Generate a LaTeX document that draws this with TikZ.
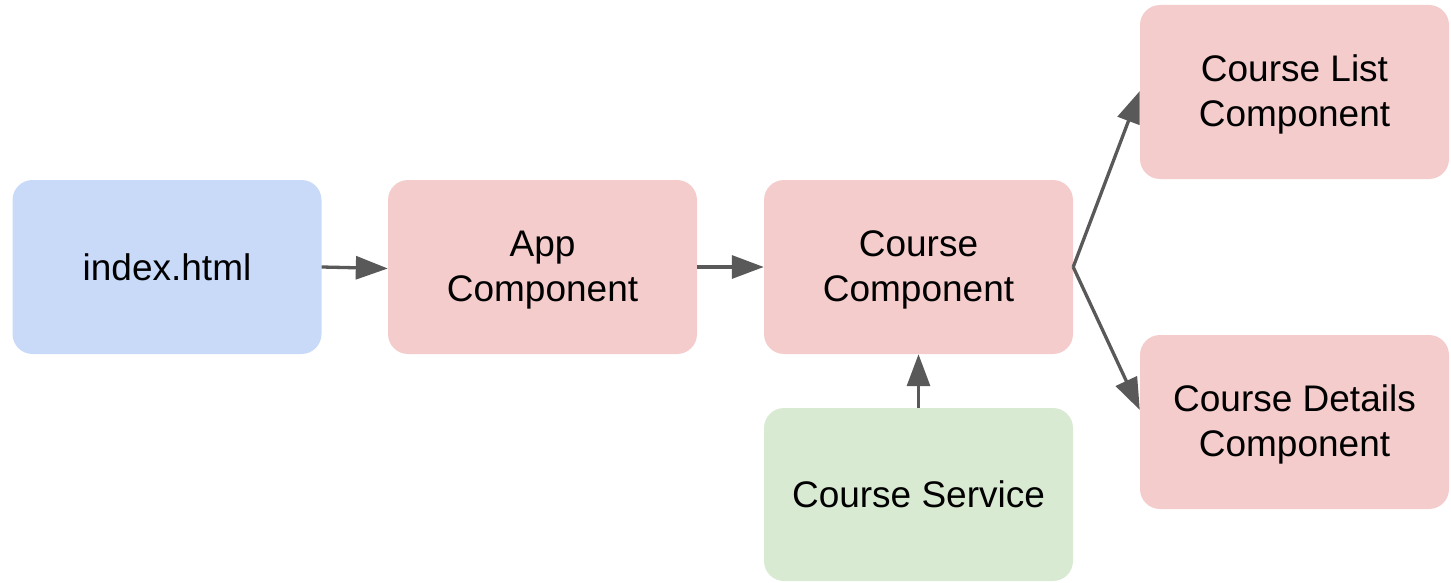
\documentclass[tikz,border=0pt]{standalone}
\usepackage{fontspec}
\setmainfont{Liberation Sans}
\usetikzlibrary{arrows.meta}
\definecolor{boxblue}{HTML}{C9DAF8}
\definecolor{boxpink}{HTML}{F4CCCC}
\definecolor{boxgreen}{HTML}{D9EAD3}
\definecolor{arrowgray}{HTML}{595959}
\newcommand\twolinetext[2]{\raisebox{10.3pt}[0pt][0pt]{\begin{tabular}[t]{@{}c@{}}#1\\#2\end{tabular}}}
\begin{document}
\begin{tikzpicture}[x=1pt,y=-1pt,
  box/.style={draw=none, rounded corners=20pt, minimum width=309pt, minimum height=174pt,
    inner sep=0pt, align=center, font=\fontsize{37}{45}\selectfont, text=black},
  conn/.style={draw=arrowgray, line width=3.3pt, -{Triangle[length=32pt,width=23pt]}}]
\useasboundingbox (0,0) rectangle (1451,583);
\node[box, fill=boxblue] (idx) at (167,267) {index.html};
\node[box, fill=boxpink] (app) at (542.5,267) {\twolinetext{App}{Component}};
\node[box, fill=boxpink] (cc) at (918.5,267) {\twolinetext{Course}{Component}};
\node[box, fill=boxpink] (lst) at (1294.5,92) {\twolinetext{Course List}{Component}};
\node[box, fill=boxpink] (det) at (1294.5,422) {\twolinetext{Course Details}{Component}};
\node[box, fill=boxgreen, minimum height=173pt] (svc) at (918.5,494.5) {Course Service};
\draw[conn] (idx.east) -- ([yshift=-1.5pt]app.west);
\draw[conn] (app.east) -- (cc.west);
\draw[conn] (svc.north) -- (cc.south);
\draw[conn] (cc.east) -- ([yshift=1pt]lst.west);
\draw[conn] (cc.east) -- ([yshift=12pt]det.west);
\end{tikzpicture}
\end{document}
